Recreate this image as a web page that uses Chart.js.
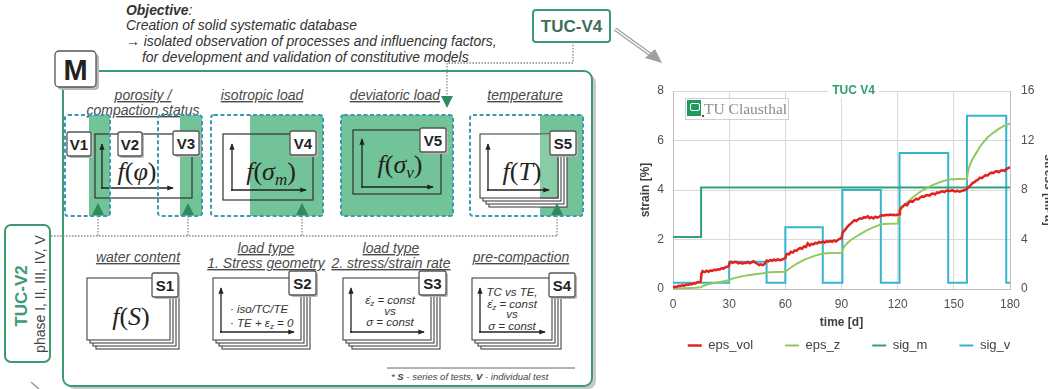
<!DOCTYPE html>
<html><head><meta charset="utf-8">
<script src="https://cdn.jsdelivr.net/npm/chart.js@4.4.1/dist/chart.umd.min.js"></script>
<style>
html,body{margin:0;padding:0;width:1048px;height:389px;overflow:hidden;background:#fff;}
#diag{position:absolute;left:0;top:0;}
#wrap{position:absolute;left:620px;top:70px;width:450px;height:319px;}
#logo{position:absolute;left:685px;top:98px;width:102px;height:20px;border:1px solid #d0d0d0;background:rgba(255,255,255,0.6);}
#logo .sq{position:absolute;left:1px;top:1px;width:14px;height:16px;background:#1f9a5c;}
#logo .sq i{position:absolute;left:3px;top:3px;width:8px;height:6px;border:1px solid #fff;border-radius:2px;}
#logo .sq b{position:absolute;right:-3px;bottom:-1px;width:2px;height:2px;background:#555;}
#logo span{position:absolute;left:18px;top:0px;font-family:'Liberation Serif','DejaVu Serif',serif;font-size:15.5px;color:#8c8c8c;line-height:20px;white-space:nowrap;}
</style></head><body>
<svg id="diag" width="1048" height="389" xmlns="http://www.w3.org/2000/svg" font-family="'Liberation Sans', Arial, sans-serif">
<defs>
<marker id="ar" viewBox="0 0 8 8" refX="7" refY="4" markerWidth="5" markerHeight="5" orient="auto"><path d="M0,0.8 L8,4 L0,7.2 z" fill="#222"/></marker>
<style>
.t{font-style:italic;fill:#4a4a4a;font-size:14px;text-decoration:underline;text-anchor:middle;}
.lb{fill:#fff;stroke:#555;stroke-width:1.3;}
.sh{fill:#b8b8b8;}
.lt{font-weight:bold;font-size:15px;fill:#222;text-anchor:middle;}
.dash{fill:none;stroke:#3a9ab5;stroke-width:2;stroke-dasharray:4 2.5;}
.gf{fill:#72c397;}
.fr{fill:none;stroke:#333;stroke-width:1.2;}
.pg{fill:#fff;stroke:#444;stroke-width:1.1;}
.pgn{fill:none;stroke:#444;stroke-width:1.1;}
.dot{fill:none;stroke:#8a8a8a;stroke-width:1.3;stroke-dasharray:1.5 1.5;}
.ax{stroke:#222;stroke-width:1.3;fill:none;marker-end:url(#ar);}
.fn{font-family:'Liberation Serif','DejaVu Serif',serif;font-size:26px;fill:#222;text-anchor:middle;}
.it{font-style:italic;}
.st{font-style:italic;font-size:11.5px;fill:#333;}
.tri{fill:#2e8b5e;}
.ob{font-size:13.9px;font-style:italic;fill:#333;}
</style>
</defs>
<!-- objective -->
<text class="ob" x="126" y="15"><tspan font-weight="bold">Objective</tspan>:</text>
<text class="ob" x="126" y="30">Creation of solid systematic database</text>
<text class="ob" x="126" y="46">→ isolated observation of processes and influencing factors,</text>
<text class="ob" x="142" y="62">for development and validation of constitutive models</text>
<!-- TUC-V4 box -->
<rect x="533" y="10" width="77" height="32" rx="3" fill="#fff" stroke="#3d9c6f" stroke-width="2"/>
<text x="571.5" y="32" font-size="17" font-weight="bold" fill="#3e6f5c" text-anchor="middle">TUC-V4</text>
<path d="M615,29 L651,55" stroke="#a0a0a0" stroke-width="4" fill="none"/>
<path d="M615,29 L651,55" stroke="#fff" stroke-width="1.5" fill="none"/>
<polygon points="662,63 645,58 655,49" fill="#a0a0a0"/>
<!-- frame -->
<rect x="67" y="75" width="529" height="314" rx="8" fill="#c9c9c9"/>
<rect x="63" y="71" width="529" height="315" rx="8" fill="#fff" stroke="#3d9c6f" stroke-width="2"/>
<path class="dot" d="M573,42 V63 H447 V96"/>
<!-- M box -->
<rect x="58" y="54" width="41" height="36" rx="4" class="sh"/>
<rect x="55" y="51" width="41" height="36" rx="4" class="lb"/>
<text x="75.5" y="80" font-size="29" font-weight="bold" fill="#222" text-anchor="middle">M</text>
<!-- top titles -->
<text class="t" x="143" y="100">porosity /</text>
<text class="t" x="143" y="115">compaction status</text>
<text class="t" x="262" y="100">isotropic load</text>
<text class="t" x="395" y="100">deviatoric load</text>
<text class="t" x="525" y="100">temperature</text>
<polygon class="tri" points="441,96 453,96 447,108"/>
<!-- green fills -->
<rect class="gf" x="89" y="115" width="21" height="101"/>
<rect class="gf" x="180" y="115" width="22" height="101"/>
<rect class="gf" x="250" y="115" width="73" height="101"/>
<rect class="gf" x="341" y="115" width="112" height="101"/>
<rect class="gf" x="540" y="115" width="43" height="101"/>
<!-- V1-V3 -->
<rect class="fr" x="95" y="134" width="97" height="64"/>
<path class="ax" d="M102,189 V144"/>
<path class="ax" d="M101,188 H173"/>
<text class="fn" x="137" y="180"><tspan class="it">f</tspan>(<tspan class="it">φ</tspan>)</text>
<!-- V4 -->
<rect class="fr" x="223" y="134" width="90" height="66"/>
<path class="ax" d="M232,191 V144"/>
<path class="ax" d="M231,190 H306"/>
<text class="fn" x="271" y="180"><tspan class="it">f</tspan>(<tspan class="it">σ</tspan><tspan class="it" font-size="17" dy="5">m</tspan><tspan dy="-5">)</tspan></text>
<!-- V5 -->
<rect class="fr" x="353" y="130" width="88" height="64"/>
<path class="ax" d="M362,188 V139"/>
<path class="ax" d="M361,187 H433"/>
<text class="fn" x="400" y="173"><tspan class="it">f</tspan>(<tspan class="it">σ</tspan><tspan class="it" font-size="17" dy="5">v</tspan><tspan dy="-5">)</tspan></text>
<!-- S5 pages -->
<rect class="pg" x="489" y="143" width="78" height="64"/>
<rect class="pg" x="486" y="140" width="78" height="64"/>
<rect class="pg" x="483" y="137" width="78" height="64"/>
<rect class="pg" x="480" y="134" width="78" height="64"/>
<rect class="gf" x="540" y="135" width="18" height="62" opacity="0.85"/>
<path class="pgn" d="M558,134 V198 H540"/>
<path class="ax" d="M488,191 V144"/>
<path class="ax" d="M487,190 H549"/>
<text class="fn" x="522" y="180"><tspan class="it">f</tspan>(<tspan class="it">T</tspan>)</text>
<!-- dashed boxes -->
<rect class="dash" x="65" y="115" width="45" height="101" rx="3"/>
<rect class="dash" x="158" y="115" width="44" height="101" rx="3"/>
<rect class="dash" x="211" y="115" width="112" height="101" rx="3"/>
<rect class="dash" x="341" y="115" width="112" height="101" rx="3"/>
<rect class="dash" x="470" y="115" width="113" height="101" rx="3"/>
<!-- labels top -->
<rect class="sh" x="69" y="134" width="24" height="24" rx="2"/><rect class="lb" x="67" y="132" width="24" height="24" rx="2"/><text class="lt" x="79" y="150">V1</text>
<rect class="sh" x="120" y="134" width="24" height="24" rx="2"/><rect class="lb" x="118" y="132" width="24" height="24" rx="2"/><text class="lt" x="130" y="150">V2</text>
<rect class="sh" x="175" y="133" width="26" height="24" rx="2"/><rect class="lb" x="173" y="131" width="26" height="24" rx="2"/><text class="lt" x="186" y="149">V3</text>
<rect class="sh" x="292" y="133" width="26" height="24" rx="2"/><rect class="lb" x="290" y="131" width="26" height="24" rx="2"/><text class="lt" x="303" y="149">V4</text>
<rect class="sh" x="422" y="130" width="26" height="24" rx="2"/><rect class="lb" x="420" y="128" width="26" height="24" rx="2"/><text class="lt" x="433" y="146">V5</text>
<rect class="sh" x="552" y="133" width="26" height="24" rx="2"/><rect class="lb" x="550" y="131" width="26" height="24" rx="2"/><text class="lt" x="563" y="149">S5</text>
<!-- arrows up -->
<polygon class="tri" points="92,215 104,215 98,203"/>
<polygon class="tri" points="182,215 194,215 188,203"/>
<polygon class="tri" points="296,215 308,215 302,203"/>
<polygon class="tri" points="551,215 563,215 557,203"/>
<path class="dot" d="M51,236 H557 M98,216 V236 M188,216 V236 M302,216 V236 M557,216 V236"/>
<!-- TUC-V2 -->
<rect x="5" y="225" width="45" height="137" rx="6" fill="#fff" stroke="#3d9c6f" stroke-width="2"/>
<text transform="translate(27,296) rotate(-90)" font-size="17" font-weight="bold" fill="#3d9c6f" text-anchor="middle">TUC-V2</text>
<text transform="translate(45,294) rotate(-90)" font-size="14" fill="#444" text-anchor="middle">phase I, II, III, IV, V</text>
<path d="M31,382 L39,389" stroke="#999" stroke-width="1.5"/>
<!-- bottom titles -->
<text class="t" x="138" y="262">water content</text>
<text class="t" x="266" y="253">load type</text>
<text class="t" x="266" y="268" font-size="13.5">1. Stress geometry</text>
<text class="t" x="391" y="253">load type</text>
<text class="t" x="391" y="268" font-size="13.5">2. stress/strain rate</text>
<text class="t" x="521" y="262">pre-compaction</text>
<!-- S1 -->
<rect class="pg" x="96" y="287" width="83" height="62"/><rect class="pg" x="93" y="284" width="83" height="62"/><rect class="pg" x="90" y="281" width="83" height="62"/><rect class="pg" x="87" y="278" width="83" height="62"/>
<text class="fn" x="131" y="325" font-size="28"><tspan class="it">f</tspan>(<tspan class="it">S</tspan>)</text>
<!-- S2 -->
<rect class="pg" x="222" y="287" width="88" height="62"/><rect class="pg" x="219" y="284" width="88" height="62"/><rect class="pg" x="216" y="281" width="88" height="62"/><rect class="pg" x="213" y="278" width="88" height="62"/>
<path class="ax" d="M221,333 V288"/><path class="ax" d="M220,332 H294"/>
<text class="st" x="230" y="313">· iso/TC/TE</text>
<text class="st" x="230" y="327">· TE + ε<tspan font-size="8" dy="2">z</tspan><tspan dy="-2"> = 0</tspan></text>
<!-- S3 -->
<rect class="pg" x="352" y="287" width="88" height="62"/><rect class="pg" x="349" y="284" width="88" height="62"/><rect class="pg" x="346" y="281" width="88" height="62"/><rect class="pg" x="343" y="278" width="88" height="62"/>
<path class="ax" d="M351,333 V288"/><path class="ax" d="M350,332 H424"/>
<text class="st" x="390" y="304" text-anchor="middle">ε̇<tspan font-size="8" dy="2">z</tspan><tspan dy="-2"> = const</tspan></text>
<text class="st" x="390" y="315" text-anchor="middle" font-size="9.5">vs</text>
<text class="st" x="390" y="326" text-anchor="middle">σ = const</text>
<!-- S4 -->
<rect class="pg" x="481" y="287" width="80" height="62"/><rect class="pg" x="478" y="284" width="80" height="62"/><rect class="pg" x="475" y="281" width="80" height="62"/><rect class="pg" x="472" y="278" width="80" height="62"/>
<path class="ax" d="M480,333 V288"/><path class="ax" d="M479,332 H545"/>
<text class="st" x="512" y="296" text-anchor="middle">TC vs TE,</text>
<text class="st" x="512" y="308" text-anchor="middle">ε̇<tspan font-size="8" dy="2">z</tspan><tspan dy="-2"> = const</tspan></text>
<text class="st" x="512" y="318" text-anchor="middle" font-size="9.5">vs</text>
<text class="st" x="512" y="330" text-anchor="middle">σ = const</text>
<!-- bottom labels -->
<rect class="sh" x="154" y="275" width="26" height="24" rx="2"/><rect class="lb" x="152" y="273" width="26" height="24" rx="2"/><text class="lt" x="165" y="291">S1</text>
<rect class="sh" x="291" y="273" width="27" height="24" rx="2"/><rect class="lb" x="289" y="271" width="27" height="24" rx="2"/><text class="lt" x="302.5" y="289">S2</text>
<rect class="sh" x="421" y="273" width="27" height="24" rx="2"/><rect class="lb" x="419" y="271" width="27" height="24" rx="2"/><text class="lt" x="432.5" y="289">S3</text>
<rect class="sh" x="551" y="275" width="26" height="24" rx="2"/><rect class="lb" x="549" y="273" width="26" height="24" rx="2"/><text class="lt" x="562" y="291">S4</text>
<!-- footnote -->
<path d="M387,368 H575" stroke="#666" stroke-width="1"/>
<text x="391" y="380" font-size="9.5" font-style="italic" fill="#444">* <tspan font-weight="bold">S</tspan> - series of tests, <tspan font-weight="bold">V</tspan> - individual test</text>
</svg>
<div id="wrap"><canvas id="c" width="450" height="319"></canvas></div>
<div id="logo"><div class="sq"><i></i><b></b></div><span>TU Clausthal</span></div>
<script>
// ---- data ----
const chartTitle = 'TUC V4';
const seriesNames = ['eps_vol', 'eps_z', 'sig_m', 'sig_v'];
const xTicks = [0, 30, 60, 90, 120, 150, 180];
const strainTicks = [0, 2, 4, 6, 8];
const stressTicks = [0, 4, 8, 12, 16];

const epsVolT = [0,1,2,3,4,5,6,7,8,9,10,11,12,13,14,14.8,15.2,15.8,17,18,19,20,21,22,23,24,25,26,27,28,29,29.8,30.3,31,32,33,34,35,36,37,38,39,40,41,42,43,44,45,46,47,48,49,50,51,52,53,54,55,56,57,58,59,60,60.5,61,62,63,64,65,66,67,68,69,70,71,72,73,74,75,76,77,78,79,80,81,82,83,84,85,86,87,88,89,90,90.5,91,92,93,94,95,96,97,98,99,100,101,102,103,104,105,106,107,108,109,110,111,112,113,114,115,116,117,118,119,120,120.8,121.2,122,123,124,125,126,127,128,129,130,131,132,133,134,135,136,137,138,139,140,141,142,143,144,145,146,147,148,149,150,151,152,153,154,155,156,157,158,159,160,161,162,163,164,165,166,167,168,169,170,171,172,173,174,175,176,177,178,179,180];
const epsVolV = [0.05,0.1,0.08,0.13,0.12,0.15,0.13,0.18,0.16,0.2,0.19,0.23,0.22,0.27,0.28,0.3,0.62,0.72,0.68,0.74,0.7,0.75,0.73,0.78,0.76,0.8,0.79,0.84,0.82,0.88,0.9,0.92,1.05,1.1,1.06,1.1,1.08,1.04,1.07,1.03,1.06,1.05,1.09,1.04,1.08,1.12,1.06,1.02,0.97,1.0,0.96,1.02,1.15,1.12,1.17,1.14,1.19,1.15,1.2,1.16,1.18,1.22,1.25,1.38,1.42,1.4,1.5,1.47,1.56,1.54,1.62,1.66,1.63,1.72,1.7,1.84,1.76,1.82,1.8,1.86,1.84,1.9,1.87,1.92,1.88,1.93,1.9,1.94,1.91,1.96,1.92,1.98,2.02,2.05,2.25,2.32,2.4,2.5,2.58,2.64,2.72,2.78,2.75,2.82,2.86,2.84,2.9,2.88,2.94,2.86,2.9,2.85,2.92,2.88,2.91,2.96,2.98,2.97,3.0,2.98,3.01,2.99,3.0,2.98,3.0,3.02,3.2,3.3,3.35,3.42,3.38,3.5,3.55,3.52,3.6,3.64,3.62,3.7,3.74,3.72,3.78,3.8,3.77,3.84,3.86,3.82,3.9,3.88,3.93,3.95,3.92,3.97,3.98,3.95,3.99,3.96,3.94,3.97,3.93,3.96,3.98,4.0,4.05,4.12,4.2,4.28,4.32,4.38,4.42,4.5,4.48,4.55,4.6,4.58,4.66,4.7,4.68,4.74,4.76,4.72,4.78,4.8,4.77,4.84,4.88,4.92];

const epsZT = [0,3,6,9,12,15,16,18,20,22,25,28,30,31,33,36,40,44,48,50,55,60,61,62,64,66,68,70,73,76,80,85,90,90.6,91.5,93,95,97,100,103,106,110,111,115,120,120.8,121.5,123,125,128,131,134,138,142,147,152,157,157.6,158.5,160,162,164,166,168,170,172,174,176,178,180];
const epsZV = [0.02,0.03,0.03,0.04,0.05,0.07,0.12,0.17,0.21,0.24,0.28,0.32,0.36,0.4,0.45,0.5,0.56,0.6,0.64,0.67,0.69,0.7,0.76,0.82,0.92,1.02,1.1,1.18,1.27,1.35,1.43,1.45,1.46,1.6,1.72,1.85,1.98,2.08,2.22,2.35,2.46,2.58,2.62,2.64,2.65,3.0,3.2,3.35,3.5,3.7,3.87,4.02,4.18,4.3,4.42,4.44,4.45,4.75,5.0,5.25,5.5,5.75,5.95,6.12,6.25,6.36,6.47,6.56,6.63,6.68];

const sigMT = [0, 15, 180];
const sigMV = [4.2, 8.2, 8.2];

const sigVT = [0, 30, 50, 60, 80, 90.5, 111, 121, 147, 157, 178, 180];
const sigVV = [0.5, 2.2, 0.5, 5.0, 0.5, 8.0, 0.5, 11.0, 0.5, 14.0, 0.5, 0.5];

const colors = ['#e3211f', '#93c95b', '#2fa374', '#36b4cf'];

const pts = (t, v) => t.map((x, i) => ({x: x, y: v[i]}));

Chart.defaults.font.family = "'Liberation Sans', Arial, sans-serif";
Chart.defaults.color = '#555';

const topTitle = {
  id: 'topTitle',
  afterDraw(chart) {
    const {ctx, chartArea: a} = chart;
    ctx.save();
    ctx.font = "bold 12px 'Liberation Sans', Arial, sans-serif";
    const w = ctx.measureText(chartTitle).width;
    const cx = (a.left + a.right) / 2 + 12;
    ctx.fillStyle = '#fff';
    ctx.fillRect(cx - w / 2 - 4, a.top - 7, w + 8, 14);
    ctx.fillStyle = '#2e9e6e';
    ctx.textAlign = 'center';
    ctx.textBaseline = 'middle';
    ctx.fillText(chartTitle, cx, a.top);
    ctx.restore();
  }
};
const legendShift = {
  id: 'legendShift',
  afterLayout(chart) {
    const l = chart.legend;
    if (!l) return;
    l.top -= 24; l.bottom -= 24; l.left += 4; l.right += 4;
  }
};

const tickFont = {size: 12};
const titleFont = {size: 12, weight: 'bold'};

new Chart(document.getElementById('c'), {
  type: 'line',
  data: {
    datasets: [
      {label: seriesNames[0], data: pts(epsVolT, epsVolV), borderColor: colors[0], backgroundColor: colors[0], borderWidth: 2.5, yAxisID: 'y'},
      {label: seriesNames[1], data: pts(epsZT, epsZV), borderColor: colors[1], backgroundColor: colors[1], borderWidth: 2, yAxisID: 'y'},
      {label: seriesNames[2], data: pts(sigMT, sigMV), borderColor: colors[2], backgroundColor: colors[2], borderWidth: 2, stepped: true, yAxisID: 'y2'},
      {label: seriesNames[3], data: pts(sigVT, sigVV), borderColor: colors[3], backgroundColor: colors[3], borderWidth: 2, stepped: true, yAxisID: 'y2'}
    ]
  },
  options: {
    responsive: false,
    animation: false,
    elements: {point: {radius: 0}, line: {tension: 0}},
    layout: {padding: {top: 21, bottom: 8, left: 0, right: 0}},
    scales: {
      x: {
        type: 'linear', min: 0, max: 180,
        afterBuildTicks: s => { s.ticks = xTicks.map(v => ({value: v})); },
        afterFit: s => { s.height = 42; },
        ticks: {font: tickFont, color: '#505050', padding: 8, maxRotation: 0},
        grid: {color: '#d9d9d9', drawTicks: false},
        border: {color: '#bfbfbf'},
        title: {display: true, text: 'time [d]', font: titleFont, color: '#404040', padding: {top: 0, bottom: 1}}
      },
      y: {
        position: 'left', min: 0, max: 8,
        afterBuildTicks: s => { s.ticks = strainTicks.map(v => ({value: v})); },
        afterFit: s => { s.width = 53; },
        ticks: {font: tickFont, color: '#505050', padding: 9},
        grid: {color: '#d9d9d9', drawTicks: false},
        border: {color: '#bfbfbf'},
        title: {display: true, text: 'strain [%]', font: titleFont, color: '#404040', padding: {top: 18, bottom: 0}}
      },
      y2: {
        position: 'right', min: 0, max: 16,
        afterBuildTicks: s => { s.ticks = stressTicks.map(v => ({value: v})); },
        afterFit: s => { s.width = 60; },
        ticks: {font: tickFont, color: '#505050', padding: 11},
        grid: {drawOnChartArea: false, drawTicks: false},
        border: {color: '#bfbfbf'},
        title: {display: true, text: 'stress [MPa]', font: titleFont, color: '#404040', padding: {top: 14.5, bottom: 0}}
      }
    },
    plugins: {
      legend: {
        position: 'bottom', maxHeight: 50,
        labels: {usePointStyle: true, pointStyle: 'line', pointStyleWidth: 14, padding: 32, color: '#404040', font: {size: 13}}
      },
      tooltip: {enabled: false},
      title: {display: false}
    }
  },
  plugins: [topTitle, legendShift]
});
</script>
</body></html>
